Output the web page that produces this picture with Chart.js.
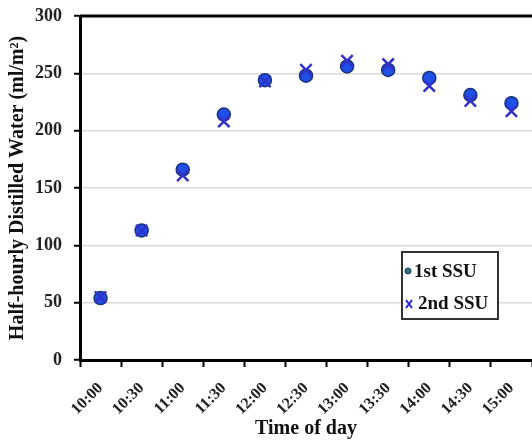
<!DOCTYPE html>
<html>
<head>
<meta charset="utf-8">
<script src="https://cdn.jsdelivr.net/npm/chart.js@4"></script>
<style>
  html, body { margin: 0; padding: 0; background: #fff; }
  #wrap { width: 532px; height: 443px; }
</style>
</head>
<body>
<div id="wrap"><canvas id="chart"></canvas></div>
<script>
const times = ['10:00', '10:30', '11:00', '11:30', '12:00', '12:30', '13:00', '13:30', '14:00', '14:30', '15:00'];
const firstSSU = [54, 113, 166, 214, 244, 248, 256, 253, 246, 231, 224];
const secondSSU = [55, 113, 161, 208, 243, 253, 261, 258, 239, 226, 217];
const yTicks = [0, 50, 100, 150, 200, 250, 300];

const serif = '"Liberation Serif", "Times New Roman", serif';

// little boxed legend inside the plot, like the original
const boxLegend = {
  id: 'boxLegend',
  afterDraw(chart) {
    const ctx = chart.ctx;
    const x = 402, y = 252, w = 96, h = 67;
    ctx.save();
    ctx.fillStyle = '#fff';
    ctx.fillRect(x, y, w, h);
    ctx.strokeStyle = '#333';
    ctx.lineWidth = 2;
    ctx.strokeRect(x, y, w, h);
    ctx.font = 'bold 19px ' + serif;
    ctx.fillStyle = '#111';
    ctx.textBaseline = 'middle';
    ctx.fillText('1st SSU', 414, 272);
    ctx.fillText('2nd SSU', 418, 304);
    // markers
    ctx.beginPath();
    ctx.arc(408, 271, 3, 0, Math.PI * 2);
    ctx.fillStyle = '#2f6f86';
    ctx.fill();
    ctx.strokeStyle = '#1b3b4a';
    ctx.lineWidth = 1;
    ctx.stroke();
    ctx.strokeStyle = '#2323d8';
    ctx.lineWidth = 2;
    ctx.beginPath();
    ctx.moveTo(406, 300); ctx.lineTo(412, 308);
    ctx.moveTo(412, 300); ctx.lineTo(406, 308);
    ctx.stroke();
    ctx.restore();
  }
};

// thick black frame line along the top of the plot
const topFrame = {
  id: 'topFrame',
  afterDatasetsDraw(chart) {
    const a = chart.chartArea, ctx = chart.ctx;
    ctx.save();
    ctx.strokeStyle = '#000';
    ctx.lineWidth = 3;
    ctx.beginPath();
    ctx.moveTo(a.left, a.top);
    ctx.lineTo(a.right, a.top);
    ctx.stroke();
    ctx.restore();
  }
};

new Chart(document.getElementById('chart'), {
  type: 'line',
  data: {
    labels: times,
    datasets: [
      {
        label: '2nd SSU',
        data: secondSSU,
        showLine: false,
        pointStyle: 'crossRot',
        pointRadius: 8,
        pointBorderWidth: 2.5,
        borderColor: '#3232c8',
        backgroundColor: '#3232c8'
      },
      {
        label: '1st SSU',
        data: firstSSU,
        showLine: false,
        pointStyle: 'circle',
        pointRadius: 6.5,
        pointBorderWidth: 1.5,
        borderColor: '#17327a',
        backgroundColor: '#1f4fe6'
      }
    ]
  },
  options: {
    responsive: true,
    maintainAspectRatio: false,
    animation: false,
    layout: { autoPadding: false, padding: { top: 16, right: 0, left: 0, bottom: 0 } },
    plugins: {
      legend: { display: false },
      tooltip: { enabled: false }
    },
    scales: {
      x: {
        offset: true,
        grid: { offset: true, drawOnChartArea: false, tickLength: 7, tickColor: '#000', tickWidth: 2 },
        border: { color: '#000', width: 3 },
        ticks: { color: '#222', font: { family: serif, weight: 'bold', size: 16 }, minRotation: 45, maxRotation: 45, padding: 12 },
        title: { display: true, text: 'Time of day', color: '#111', font: { family: serif, weight: 'bold', size: 20 }, padding: { top: 0, bottom: 2 } },
        afterFit(scale) {
          scale.height = 83;
          scale.paddingRight = 0;
        }
      },
      y: {
        min: 0,
        max: 300,
        afterBuildTicks(scale) { scale.ticks = yTicks.map(v => ({ value: v })); },
        grid: { color: '#d9d9d9', lineWidth: 1.5, tickLength: 6, tickColor: '#000', tickWidth: 2 },
        border: { color: '#000', width: 3 },
        ticks: { color: '#222', font: { family: serif, weight: 'bold', size: 18 }, padding: 12 },
        title: { display: true, text: 'Half-hourly Distilled Water (ml/m²)', color: '#111', font: { family: serif, weight: 'bold', size: 20 }, padding: { top: 6, bottom: 0 } },
        afterFit(scale) {
          scale.width = 80;
          scale.paddingTop = 0;
        }
      }
    }
  },
  plugins: [topFrame, boxLegend]
});
</script>
</body>
</html>
